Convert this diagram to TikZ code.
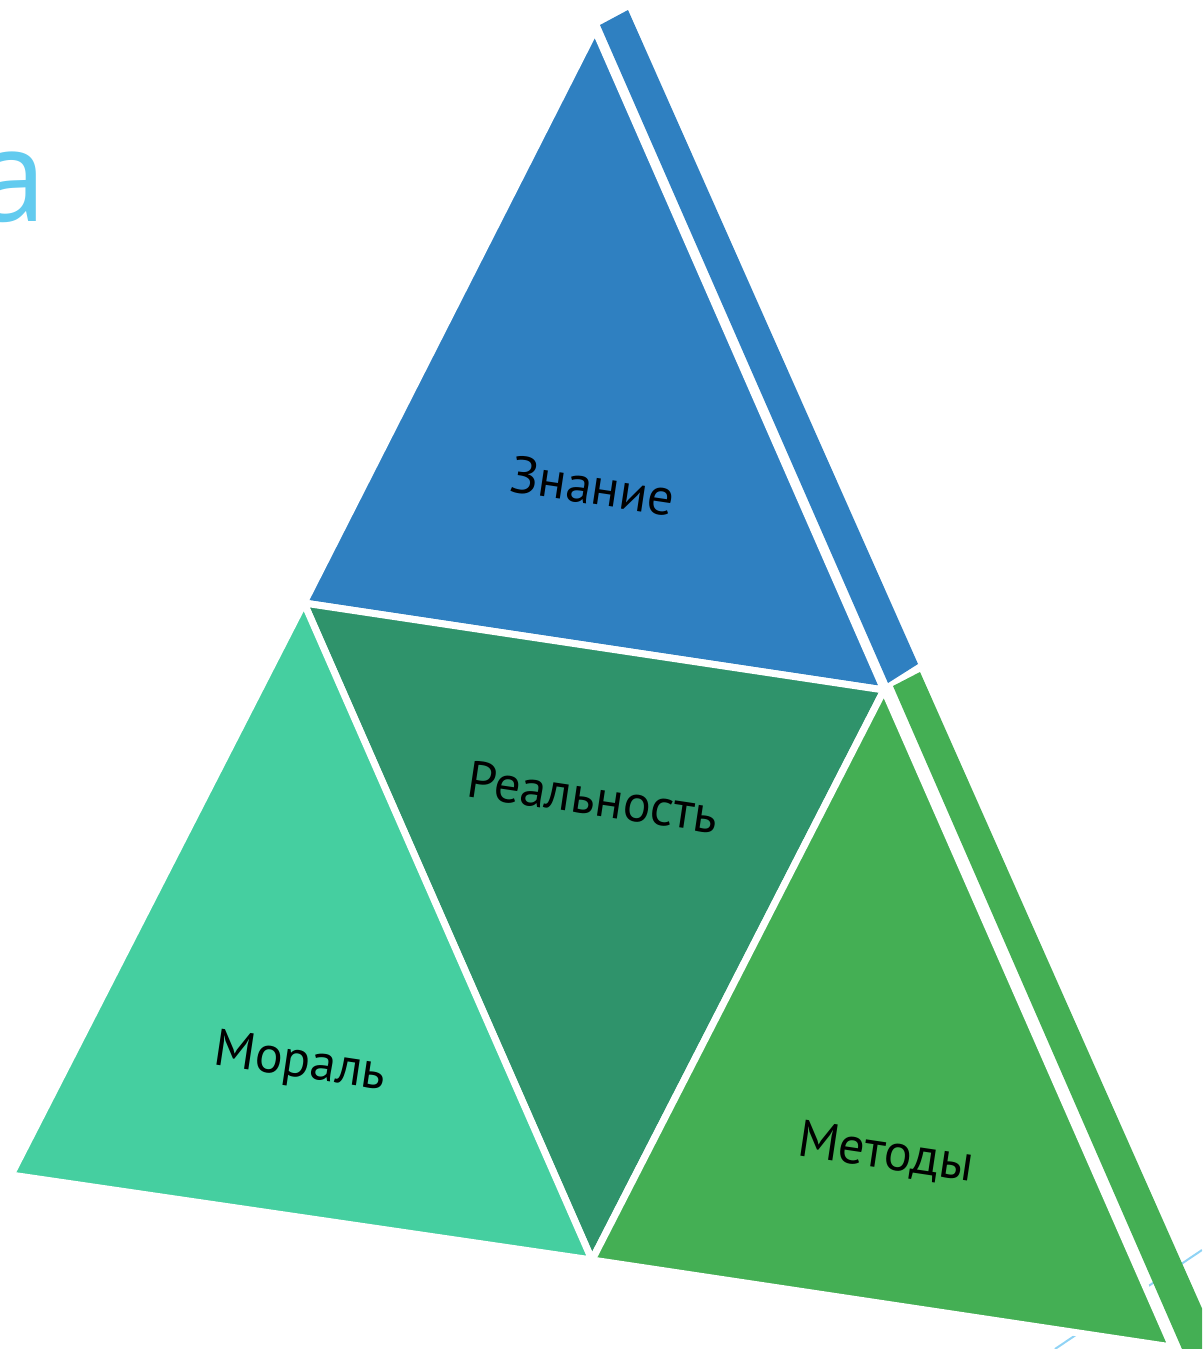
\documentclass[tikz,border=0pt]{standalone}
\usepackage{fontspec}
\setmainfont{PT Sans}
\newfontfamily\letterfont{Open Sans}
\definecolor{cblue}{HTML}{2F80C1}
\definecolor{cdark}{HTML}{2F936B}
\definecolor{cteal}{HTML}{45CFA0}
\definecolor{cgreen}{HTML}{44AF54}
\definecolor{clight}{HTML}{62CBEF}
\definecolor{cline}{HTML}{8FD3F5}
\begin{document}
\begin{tikzpicture}[x=1pt,y=-1pt,
  piece/.style={draw=white,line width=7pt,line join=miter},
  lbl/.style={font=\fontsize{52}{60}\selectfont,text=black,rotate=-8.5,inner sep=0pt}]
\useasboundingbox (0,0) rectangle (1202,1349);
\clip (0,0) rectangle (1202,1349);
\coordinate (A) at (595,30);
\coordinate (B) at (11,1175);
\coordinate (C) at (1172,1347);
\coordinate (AB) at (304,603);
\coordinate (AC) at (884,690);
\coordinate (BC) at (592,1260);
% faint background line
\coordinate (l1) at (1055,1349);
\coordinate (l2) at (1202,1250);
\draw[cline,line width=2pt] (l1) -- (l2);
% letter at top-left
\node[text=clight,font=\letterfont\fontsize{128}{140}\selectfont,anchor=base east,inner sep=0pt] (let) at (47,221) {а};
% side strips
\fill[cblue] (600,25) -- (628,10) -- (918,664) -- (888,683) -- cycle;
\fill[cgreen] (893,686) -- (920,672) -- (1220,1349) -- (1182,1349) -- cycle;
% triangles
\filldraw[piece,fill=cblue] (A) -- (AB) -- (AC) -- cycle;
\filldraw[piece,fill=cdark] (AB) -- (AC) -- (BC) -- cycle;
\filldraw[piece,fill=cteal] (AB) -- (B) -- (BC) -- cycle;
\filldraw[piece,fill=cgreen] (AC) -- (BC) -- (C) -- cycle;
% labels
\node[lbl] (zn) at (593,486) {Знание};
\node[lbl] (re) at (593,797) {Реальность};
\node[lbl] (mo) at (300,1064) {Мораль};
\node[lbl] (me) at (886,1154) {Методы};
\end{tikzpicture}
\end{document}
